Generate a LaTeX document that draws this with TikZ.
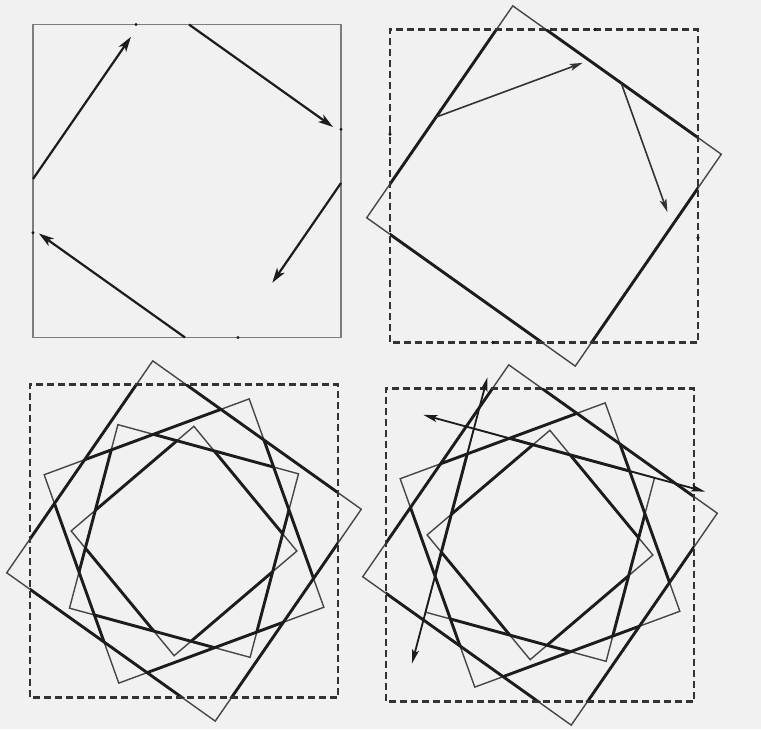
\documentclass[tikz,border=0pt]{standalone}
\usetikzlibrary{calc,arrows.meta}
\definecolor{bg}{RGB}{241,241,241}
\definecolor{ink}{RGB}{28,28,28}
\definecolor{thinink}{RGB}{70,70,70}
\definecolor{boxgray}{RGB}{125,125,125}
\newcommand\defsq[3]{%
  \coordinate (#1-1) at ({#3+45}:#2);
  \coordinate (#1-2) at ({#3+135}:#2);
  \coordinate (#1-3) at ({#3+225}:#2);
  \coordinate (#1-4) at ({#3+315}:#2);}
\newcommand\drawsq[2]{\draw[#2] (#1-1)--(#1-2)--(#1-3)--(#1-4)--cycle;}
\newcommand\clipsq[1]{\clip (#1-1)--(#1-2)--(#1-3)--(#1-4)--cycle;}
\newcommand\clipbox{\clip (-154,-154) rectangle (154,154);}
\tikzset{
  thinsq/.style={draw=thinink, line width=1.4pt, line join=miter},
  thicksq/.style={draw=ink, line width=2.9pt, line join=miter},
  dashbox/.style={draw=ink!90, line width=2.1pt, dash pattern=on 7pt off 4pt},
  plainbox/.style={draw=boxgray, line width=1.2pt},
  bigarrow/.style={draw=ink, line width=2.2pt, -{Stealth[length=15pt,width=9pt,inset=4pt]}},
  midarrow/.style={draw=ink!90, line width=1.6pt, -{Stealth[length=13pt,width=7pt,inset=3pt]}},
  duoarrow/.style={draw=ink, line width=1.8pt, {Stealth[length=14pt,width=7pt,inset=3pt]}-{Stealth[length=14pt,width=7pt,inset=3pt]}},
  tickdot/.style={fill=ink}
}
\begin{document}
\begin{tikzpicture}[x=1pt,y=1pt]
\useasboundingbox (0,0) rectangle (761,729);
\fill[bg] (0,0) rectangle (761,729);

% ---------- panel 1 ----------
\begin{scope}[shift={(187,548)},yscale=1.016]
  \draw[plainbox] (-154,-154) rectangle (154,154);
  \defsq{a}{180}{-35}
  \draw[bigarrow] ($(a-3)!0.1594!(a-2)$) -- ($(a-3)!0.83!(a-2)$);
  \draw[bigarrow] ($(a-2)!0.1594!(a-1)$) -- ($(a-2)!0.85!(a-1)$);
  \draw[bigarrow] ($(a-1)!0.1594!(a-4)$) -- ($(a-1)!0.63!(a-4)$);
  \draw[bigarrow] ($(a-4)!0.1594!(a-3)$) -- ($(a-4)!0.86!(a-3)$);
  \foreach \p in {(-51,154),(154,51),(51,-154),(-154,-51)}
    \fill[tickdot] \p circle (1.6);
\end{scope}

% ---------- panel 2 ----------
\begin{scope}[shift={(544,543)},yscale=1.016]
  \defsq{b}{180}{-35}
  \drawsq{b}{thinsq}
  \begin{scope}\clipbox \drawsq{b}{thicksq}\end{scope}
  \draw[dashbox] (-154,-154) rectangle (154,154);
  \foreach \p in {(-154,51),(51,154),(154,-51),(-51,-154)}
    \fill[tickdot] \p circle (1.8);
  \coordinate (s1) at (-107.9,67.8);
  \coordinate (e1) at (38.7,121.2);
  \coordinate (s2) at (77.2,101.3);
  \coordinate (e2) at (123.4,-25.6);
  \draw[midarrow] (s1) -- (e1);
  \draw[midarrow] (s2) -- (e2);
\end{scope}

% ---------- panel 3 ----------
\begin{scope}[shift={(184,188)},yscale=1.016]
  \defsq{cA}{180}{-35}
  \defsq{cB}{154.3}{-70}
  \defsq{cC}{132.2}{-105}
  \defsq{cD}{113.3}{-140}
  \drawsq{cA}{thinsq}\drawsq{cB}{thinsq}\drawsq{cC}{thinsq}\drawsq{cD}{thinsq}
  \begin{scope}\clipbox \drawsq{cA}{thicksq}\end{scope}
  \begin{scope}\clipsq{cA} \drawsq{cB}{thicksq}\end{scope}
  \begin{scope}\clipsq{cB} \drawsq{cC}{thicksq}\end{scope}
  \begin{scope}\clipsq{cC} \drawsq{cD}{thicksq}\end{scope}
  \draw[dashbox] (-154,-154) rectangle (154,154);
\end{scope}

% ---------- panel 4 ----------
\begin{scope}[shift={(540,184)},yscale=1.016]
  \defsq{dA}{180}{-35}
  \defsq{dB}{154.3}{-70}
  \defsq{dC}{132.2}{-105}
  \defsq{dD}{113.3}{-140}
  \drawsq{dA}{thinsq}\drawsq{dB}{thinsq}\drawsq{dC}{thinsq}\drawsq{dD}{thinsq}
  \begin{scope}\clipbox \drawsq{dA}{thicksq}\end{scope}
  \begin{scope}\clipsq{dA} \drawsq{dB}{thicksq}\end{scope}
  \begin{scope}\clipsq{dB} \drawsq{dC}{thicksq}\end{scope}
  \begin{scope}\clipsq{dC} \drawsq{dD}{thicksq}\end{scope}
  \draw[dashbox] (-154,-154) rectangle (154,154);
  \draw[duoarrow] ($(dC-3)!-0.28!(dC-4)$) -- ($(dC-3)!1.28!(dC-4)$);
  \draw[duoarrow] ($(dC-3)!-0.28!(dC-2)$) -- ($(dC-3)!1.28!(dC-2)$);
\end{scope}
\end{tikzpicture}
\end{document}
